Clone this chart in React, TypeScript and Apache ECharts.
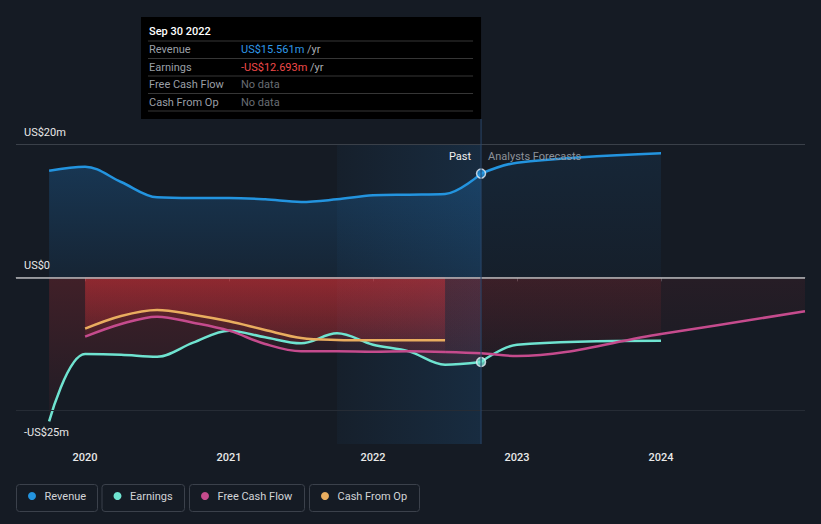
import React, { useEffect, useRef } from 'react';
import * as echarts from 'echarts';

// ---------- data (US$ millions, x = decimal year) ----------
const pastX = [2019.75, 2020, 2020.25, 2020.5, 2020.75, 2021, 2021.25, 2021.5, 2021.75, 2022, 2022.25, 2022.5, 2022.75];
const revenuePast = [16.0, 16.6, 14.3, 12.0, 11.9, 11.9, 11.7, 11.3, 11.7, 12.3, 12.4, 12.5, 15.561];
const earningsPast = [-21.6, -11.5, -11.6, -11.9, -9.8, -8.0, -9.0, -9.9, -8.4, -10.1, -11.1, -13.1, -12.693];

const forecastX = [2022.75, 2023, 2024];
const revenueForecast = [15.561, 17.2, 18.6];
const earningsForecast = [-12.693, -10.1, -9.5];

const cashX = [2020, 2020.25, 2020.5, 2020.75, 2021, 2021.25, 2021.5, 2021.75, 2022, 2022.25, 2022.5];
const fcfPast = [-8.9, -7.0, -5.9, -6.8, -8.0, -10.0, -11.1, -11.1, -11.15, -11.1, -11.2];
const cfoPast = [-7.7, -5.8, -4.9, -5.6, -6.6, -7.9, -9.1, -9.4, -9.45, -9.45, -9.45];

const fcfForecastX = [2022.5, 2022.75, 2023, 2024, 2025];
const fcfForecast = [-11.2, -11.4, -11.8, -8.5, -5.1];

const yearTicks = [2020, 2021, 2022, 2023, 2024];
const yLabelValues = [20, 0, -25];
const gridLineValues = [20, -20];

const PAST_END = 2022.75;
const BAND_START = 2021.75;

const tooltipTitle = 'Sep 30 2022';
const tooltipRows = [
  { label: 'Revenue', value: 'US$15.561m', unit: '/yr', kind: 'rev' },
  { label: 'Earnings', value: '-US$12.693m', unit: '/yr', kind: 'earn' },
  { label: 'Free Cash Flow', value: 'No data', unit: '', kind: 'none' },
  { label: 'Cash From Op', value: 'No data', unit: '', kind: 'none' },
];

const legendItems = [
  { name: 'Revenue', color: '#2394df' },
  { name: 'Earnings', color: '#6fe3d0' },
  { name: 'Free Cash Flow', color: '#c54b8d' },
  { name: 'Cash From Op', color: '#e9ad5f' },
];

const COL = {
  bg: '#151b24',
  rev: '#2394df',
  earn: '#6fe3d0',
  fcf: '#c54b8d',
  cfo: '#e9ad5f',
};
const FONT = 'Roboto, "Noto Sans", sans-serif';

const zip = (xs: number[], ys: number[]) => xs.map((x, i) => [x, ys[i]]);

const vgrad = (rgb: string, a0: number, a1: number) =>
  new echarts.graphic.LinearGradient(0, 0, 0, 1, [
    { offset: 0, color: `rgba(${rgb},${a0})` },
    { offset: 1, color: `rgba(${rgb},${a1})` },
  ]);

const RED = '228,50,56';
const BLUE = '33,140,230';

function lineSeries(name: string, data: number[][], color: string, area: any, z = 2) {
  return {
    name,
    type: 'line',
    data,
    smooth: 0.35,
    symbol: 'none',
    z,
    lineStyle: { color, width: 2.5 },
    areaStyle: area,
  };
}

export default function App() {
  const ref = useRef<HTMLDivElement>(null);

  useEffect(() => {
    const chart = echarts.init(ref.current!, null, { renderer: 'svg' });
    const option: any = {
      animation: false,
      backgroundColor: COL.bg,
      textStyle: { fontFamily: FONT },
      grid: { left: 16, right: 16, top: 144, bottom: 80 },
      xAxis: {
        type: 'value',
        min: 2019.52,
        max: 2025,
        splitLine: { show: false },
        axisLine: { show: true, lineStyle: { color: '#474d56', width: 1 } },
        axisTick: { show: true, customValues: yearTicks, length: 4, lineStyle: { color: '#474d56' } },
        axisLabel: {
          customValues: yearTicks,
          formatter: (v: number) => String(Math.round(v)),
          color: '#e8e8e8',
          fontSize: 11,
          fontWeight: 500,
          margin: 8,
          fontFamily: FONT,
        },
      },
      yAxis: {
        type: 'value',
        min: -25,
        max: 20,
        splitLine: { show: false },
        axisLine: { show: false },
        axisTick: { show: false },
        axisLabel: {
          customValues: yLabelValues,
          inside: true,
          margin: 8,
          verticalAlign: 'bottom',
          padding: [0, 0, 6, 0],
          color: '#e8e8e8',
          fontSize: 11,
          fontFamily: FONT,
          formatter: (v: number) => (v === 0 ? 'US$0' : v < 0 ? `-US$${-v}m` : `US$${v}m`),
        },
      },
      series: [
        lineSeries('Revenue', zip(pastX, revenuePast), COL.rev, { color: vgrad(BLUE, 0.34, 0.12) }),
        lineSeries('Revenue forecast', zip(forecastX, revenueForecast), COL.rev, { color: vgrad(BLUE, 0.14, 0.05) }),
        lineSeries('Earnings', zip(pastX, earningsPast), COL.earn, { color: vgrad(RED, 0.3, 0.07) }),
        lineSeries('Earnings forecast', zip(forecastX, earningsForecast), COL.earn, { color: vgrad(RED, 0.16, 0.05) }),
        lineSeries('Free Cash Flow', zip(cashX, fcfPast), COL.fcf, { color: vgrad(RED, 0.4, 0.12) }),
        lineSeries('Free Cash Flow forecast', zip(fcfForecastX, fcfForecast), COL.fcf, { color: vgrad(RED, 0.12, 0.04) }),
        lineSeries('Cash From Op', zip(cashX, cfoPast), COL.cfo, { color: vgrad(RED, 0.4, 0.12) }),
        {
          name: 'overlay',
          type: 'line',
          data: [],
          z: 3,
          markArea: {
            silent: true,
            itemStyle: {
              color: new echarts.graphic.LinearGradient(0, 0, 1, 0, [
                { offset: 0, color: 'rgba(40,140,225,0.04)' },
                { offset: 1, color: 'rgba(40,140,225,0.15)' },
              ]),
            },
            data: [[{ xAxis: BAND_START, yAxis: 20 }, { xAxis: PAST_END, yAxis: -25 }]],
          },
          markLine: {
            silent: true,
            symbol: ['none', 'none'],
            label: { show: false },
            data: [
              { yAxis: gridLineValues[0], lineStyle: { color: '#3a4049', width: 1, type: 'solid' } },
              { yAxis: gridLineValues[1], lineStyle: { color: '#262c35', width: 1, type: 'solid' } },
              { yAxis: 0, lineStyle: { color: '#b4b6b9', width: 1.5, type: 'solid' } },
            ],
          },
        },
        {
          name: 'markers',
          type: 'scatter',
          z: 5,
          symbolSize: 9,
          data: [
            { value: [PAST_END, revenuePast[revenuePast.length - 1]], itemStyle: { color: COL.rev, borderColor: '#e8eef5', borderWidth: 1.5 } },
            { value: [PAST_END, earningsPast[earningsPast.length - 1]], itemStyle: { color: COL.earn, borderColor: '#e8eef5', borderWidth: 1.5 } },
          ],
        },
      ],
    };
    chart.setOption(option);

    const xPast = chart.convertToPixel({ xAxisIndex: 0 }, PAST_END) as number;
    const yTop = chart.convertToPixel({ yAxisIndex: 0 }, 20) as number;
    const yBottom = chart.convertToPixel({ yAxisIndex: 0 }, -25) as number;

    const graphics: any[] = [];
    graphics.push({
      type: 'line',
      z: 10,
      shape: { x1: xPast, y1: 119, x2: xPast, y2: yBottom },
      style: { stroke: '#28466a', lineWidth: 1 },
    });
    graphics.push({
      type: 'text', z: 10, x: xPast - 10, y: yTop + 12,
      style: { text: 'Past', fill: '#f0f0f0', font: `11px ${FONT}`, align: 'right', verticalAlign: 'middle' },
    });
    graphics.push({
      type: 'text', z: 10, x: xPast + 7, y: yTop + 12,
      style: { text: 'Analysts Forecasts', fill: '#8c9199', font: `11px ${FONT}`, align: 'left', verticalAlign: 'middle' },
    });

    // tooltip box
    const boxL = 141, boxT = 17, boxB = 119;
    graphics.push({
      type: 'rect', z: 20,
      shape: { x: boxL, y: boxT, width: xPast - boxL, height: boxB - boxT },
      style: { fill: '#000000' },
    });
    graphics.push({
      type: 'text', z: 21, x: 149, y: 31,
      style: { text: tooltipTitle, fill: '#ffffff', font: `500 11px ${FONT}`, verticalAlign: 'middle' },
    });
    const sepYs = [41, 58.5, 76, 93.5, 111];
    sepYs.forEach((y) => {
      graphics.push({
        type: 'line', z: 21,
        shape: { x1: 148, y1: y, x2: xPast - 8, y2: y },
        style: { stroke: '#363636', lineWidth: 1 },
      });
    });
    tooltipRows.forEach((r, i) => {
      const y = (sepYs[i] + sepYs[i + 1]) / 2;
      graphics.push({
        type: 'text', z: 21, x: 149, y,
        style: { text: r.label, fill: '#9a9fa6', font: `11px ${FONT}`, verticalAlign: 'middle' },
      });
      const vColor = r.kind === 'rev' ? '#2f98e8' : r.kind === 'earn' ? '#f04a4a' : '#686d74';
      graphics.push({
        type: 'text', z: 21, x: 241, y,
        style: {
          text: r.unit ? `{v|${r.value}} {u|${r.unit}}` : `{v|${r.value}}`,
          font: `11px ${FONT}`,
          verticalAlign: 'middle',
          rich: {
            v: { fill: vColor, font: `11px ${FONT}` },
            u: { fill: '#a9adb3', font: `11px ${FONT}` },
          },
        },
      });
    });

    // legend
    const legendBoxes = [
      [16.5, 81],
      [102, 82.5],
      [189.5, 115],
      [309.5, 110],
    ];
    legendItems.forEach((it, i) => {
      const [lx, lw] = legendBoxes[i];
      graphics.push({
        type: 'rect', z: 10,
        shape: { x: lx, y: 484.5, width: lw, height: 27, r: 3 },
        style: { fill: 'transparent', stroke: '#3b414b', lineWidth: 1 },
      });
      graphics.push({
        type: 'circle', z: 11,
        shape: { cx: lx + 15.5, cy: 496, r: 4 },
        style: { fill: it.color },
      });
      graphics.push({
        type: 'text', z: 11, x: lx + 28, y: 496.5,
        style: { text: it.name, fill: '#d2d4d7', font: `11px ${FONT}`, verticalAlign: 'middle' },
      });
    });

    chart.setOption({ graphic: graphics });

    return () => chart.dispose();
  }, []);

  return <div ref={ref} style={{ position: 'fixed', left: 0, top: 0, width: 821, height: 524 }} />;
}
